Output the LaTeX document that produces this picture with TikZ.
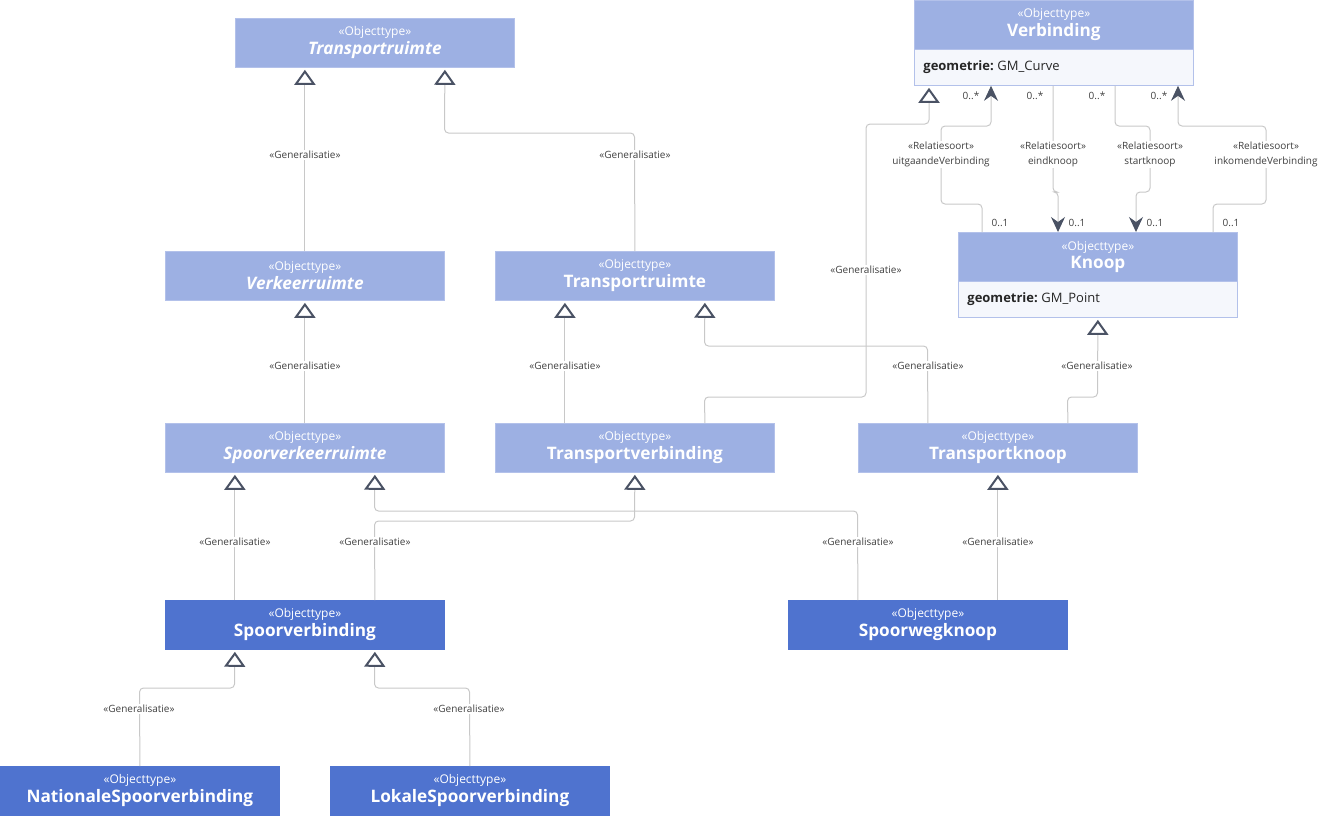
\documentclass[tikz,border=0pt]{standalone}
\usepackage{fontspec}
\setmainfont{Open Sans}
\usetikzlibrary{arrows.meta,calc}
\definecolor{lightc}{HTML}{9DB0E3}
\definecolor{darkc}{HTML}{4F73CF}
\definecolor{attrc}{HTML}{F5F7FC}
\definecolor{bordc}{HTML}{B3C1EA}
\definecolor{linec}{HTML}{C8C8C8}
\definecolor{tric}{HTML}{4A5264}
\definecolor{labc}{HTML}{404040}
\tikzset{
  box/.style={rectangle, anchor=north west, minimum width=279pt, minimum height=49pt, inner sep=0pt, align=center, fill=lightc, draw=bordc, line width=0.8pt, text=white},
  dbox/.style={box, fill=darkc, draw=darkc},
  attr/.style={rectangle, anchor=north west, minimum width=279pt, minimum height=36pt, inner xsep=9pt, inner ysep=0pt, text width=261pt, align=left, fill=attrc, draw=bordc, line width=0.8pt, text=black!85, font=\fontsize{13}{15}\selectfont},
  gen/.style={draw=linec, line width=1pt, rounded corners=4pt, -{Triangle[open, length=15pt, width=21pt, line width=2pt, color=tric]}, shorten >=2pt},
  asc/.style={draw=linec, line width=1pt, rounded corners=4pt, -{Stealth[length=15pt, width=14pt, inset=5pt, color=tric]}},
  lab/.style={fill=white, inner sep=1.5pt, align=center, text=labc, font=\fontsize{10}{14.5}\selectfont},
  mult/.style={inner sep=0pt, text=labc, font=\fontsize{10}{11}\selectfont},
}
\newcommand{\hdr}[1]{{\fontsize{12}{14}\selectfont «Objecttype»}\\[2pt]{\fontsize{17.2}{20}\selectfont\bfseries #1}}
\newcommand{\hdri}[1]{{\fontsize{12}{14}\selectfont «Objecttype»}\\[2pt]{\fontsize{17.2}{20}\selectfont\bfseries\itshape #1}}
\begin{document}
\begin{tikzpicture}[x=1pt,y=-1pt]
\useasboundingbox (0,0) rectangle (1324,815);
% boxes
\node[box] (top) at (235,18) {\hdri{Transportruimte}};
\node[box] (verb) at (914,0) {\hdr{Verbinding}};
\node[attr] (verba) at (914,49) {\textbf{geometrie:}\hspace{3.5pt}GM\_Curve};
\node[box] (knoop) at (958,232) {\hdr{Knoop}};
\node[attr] (knoopa) at (958,281) {\textbf{geometrie:}\hspace{3.5pt}GM\_Point};
\node[box] (verk) at (165,251) {\hdri{Verkeerruimte}};
\node[box] (trm) at (495,251) {\hdr{Transportruimte}};
\node[box] (svr) at (165,423) {\hdri{Spoorverkeerruimte}};
\node[box] (tvb) at (495,423) {\hdr{Transportverbinding}};
\node[box] (tkn) at (858,423) {\hdr{Transportknoop}};
\node[dbox] (spv) at (165,600) {\hdr{Spoorverbinding}};
\node[dbox] (swk) at (788,600) {\hdr{Spoorwegknoop}};
\node[dbox] (nsv) at (0,766) {\hdr{NationaleSpoorverbinding}};
\node[dbox] (lsv) at (330,766) {\hdr{LokaleSpoorverbinding}};
% generalisations
\draw[gen] (verk.north) -- ($(top.south)+(-70,0)$);
\draw[gen] (trm.north) -- (634.5,133) -- (444.5,133) -- ($(top.south)+(70,0)$);
\draw[gen] (svr.north) -- (verk.south);
\draw[gen] ($(tvb.north)+(-70,0)$) -- ($(trm.south)+(-70,0)$);
\draw[gen] ($(tkn.north)+(-70,0)$) -- (927.5,346) -- (704.5,346) -- ($(trm.south)+(70,0)$);
\draw[gen] ($(tvb.north)+(70,0)$) -- (704.5,397) -- (866,397) -- (866,124) -- (929,124) -- ($(verb.south west)+(15,36)$);
\draw[gen] ($(tkn.north)+(70,0)$) -- (1067.5,397) -- (1097.5,397) -- (knoopa.south);
\draw[gen] ($(spv.north)+(-70,0)$) -- ($(svr.south)+(-70,0)$);
\draw[gen] ($(spv.north)+(70,0)$) -- (374.5,521) -- (634.5,521) -- (tvb.south);
\draw[gen] ($(swk.north)+(-70,0)$) -- (857.5,511) -- (374.5,511) -- ($(svr.south)+(70,0)$);
\draw[gen] ($(swk.north)+(70,0)$) -- (tkn.south);
\draw[gen] (nsv.north) -- (139.5,688) -- (234.5,688) -- ($(spv.south)+(-70,0)$);
\draw[gen] (lsv.north) -- (469.5,688) -- (374.5,688) -- ($(spv.south)+(70,0)$);
% associations
\draw[asc] ($(knoop.north west)+(24,0)$) -- (982,204) -- (941,204) -- (941,126) -- (991,126) -- ($(verba.south west)+(77,0)$);
\draw[asc] ($(verba.south west)+(139,0)$) -- (1053,192) -- (1058,192) -- ($(knoop.north west)+(100,0)$);
\draw[asc] ($(verba.south west)+(201,0)$) -- (1115,126) -- (1150,126) -- (1150,192) -- (1136,192) -- ($(knoop.north west)+(178,0)$);
\draw[asc] ($(knoop.north west)+(255,0)$) -- (1213,204) -- (1266,204) -- (1266,126) -- (1178,126) -- ($(verba.south west)+(264,0)$);
% generalisation labels
\node[lab] (g1) at (305,155) {«Generalisatie»};
\node[lab] (g2) at (635,155) {«Generalisatie»};
\node[lab] (g3) at (305,366) {«Generalisatie»};
\node[lab] (g4) at (565,366) {«Generalisatie»};
\node[lab] (g5) at (928,366) {«Generalisatie»};
\node[lab] (g6) at (866,270) {«Generalisatie»};
\node[lab] (g7) at (1097,366) {«Generalisatie»};
\node[lab] (g8) at (235,542) {«Generalisatie»};
\node[lab] (g9) at (375,542) {«Generalisatie»};
\node[lab] (g10) at (858,542) {«Generalisatie»};
\node[lab] (g11) at (998,542) {«Generalisatie»};
\node[lab] (g12) at (139,709) {«Generalisatie»};
\node[lab] (g13) at (469,709) {«Generalisatie»};
% relation labels
\node[lab] (r1) at (941,154.5) {«Relatiesoort»\\uitgaandeVerbinding};
\node[lab] (r2) at (1053,154.5) {«Relatiesoort»\\eindknoop};
\node[lab] (r3) at (1150,154.5) {«Relatiesoort»\\startknoop};
\node[lab] (r4) at (1266,154.5) {«Relatiesoort»\\inkomendeVerbinding};
% multiplicities
\node[mult] (m1) at (971,96) {0..*};
\node[mult] (m2) at (1035,96) {0..*};
\node[mult] (m3) at (1097,96) {0..*};
\node[mult] (m4) at (1159,96) {0..*};
\node[mult] (n1) at (1000,223) {0..1};
\node[mult] (n2) at (1077,223) {0..1};
\node[mult] (n3) at (1155,223) {0..1};
\node[mult] (n4) at (1231,223) {0..1};
\end{tikzpicture}
\end{document}
